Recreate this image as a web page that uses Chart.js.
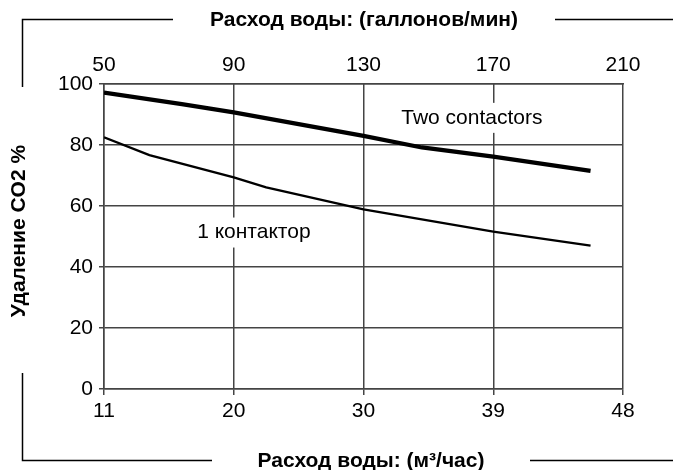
<!DOCTYPE html>
<html>
<head>
<meta charset="utf-8">
<script src="https://cdn.jsdelivr.net/npm/chart.js@4/dist/chart.umd.min.js"></script>
<style>
  html, body { margin: 0; padding: 0; background: #fff; }
  #wrap { width: 673px; height: 470px; }
</style>
</head>
<body>
<div id="wrap"><canvas id="c" width="673" height="470"></canvas></div>
<script>
// ---- Data ----
const flowGpmTwo = [50, 74, 90, 130, 148, 170, 200];
const removalTwo = [97.2, 93.4, 90.7, 83.0, 79.2, 76.2, 71.5];
const flowGpmOne = [50, 64, 90, 100, 130, 170, 200];
const removalOne = [82.5, 76.7, 69.4, 66.1, 58.9, 51.6, 47.0];

const topTickLabels = ['50', '90', '130', '170', '210'];      // gallons/min
const bottomTickLabels = ['11', '20', '30', '39', '48'];      // m3/h
const yTickLabels = ['0', '20', '40', '60', '80', '100'];

const seriesNames = ['Two contactors', '1 контактор'];
const topTitle = 'Расход воды: (галлонов/мин)';
const bottomTitle = 'Расход воды: (м³/час)';
const yTitle = 'Удаление CO2 %';

// label anchor points in data units
const labelAnchors = [
  { text: seriesNames[0], x: 163.4, y: 88.9 },
  { text: seriesNames[1], x: 96.2, y: 51.3 }
];

const FONT = '"Liberation Sans", Arial, sans-serif';

const decor = {
  id: 'decor',
  afterDatasetsDraw(chart) {
    const ctx = chart.ctx;
    const xs = chart.scales.x, ys = chart.scales.y;
    ctx.save();
    ctx.font = '21px ' + FONT;
    ctx.textAlign = 'center';
    ctx.textBaseline = 'middle';
    labelAnchors.forEach(a => {
      const px = xs.getPixelForValue(a.x), py = ys.getPixelForValue(a.y);
      const w = ctx.measureText(a.text).width;
      ctx.fillStyle = '#fff';
      ctx.fillRect(px - w / 2 - 3, py - 15, w + 6, 30);
      ctx.fillStyle = '#000';
      ctx.fillText(a.text, px, py);
    });
    ctx.restore();
  },
  afterDraw(chart) {
    const ctx = chart.ctx;
    ctx.save();
    ctx.strokeStyle = '#000';
    ctx.lineWidth = 1.5;
    ctx.beginPath();
    // top-left bracket
    ctx.moveTo(22.5, 87); ctx.lineTo(22.5, 19.5); ctx.lineTo(173, 19.5);
    // top right
    ctx.moveTo(555, 19.5); ctx.lineTo(673, 19.5);
    // bottom-left bracket
    ctx.moveTo(22.5, 373); ctx.lineTo(22.5, 460.5); ctx.lineTo(212, 460.5);
    // bottom right
    ctx.moveTo(530, 460.5); ctx.lineTo(673, 460.5);
    ctx.stroke();

    ctx.fillStyle = '#000';
    ctx.font = 'bold 21px ' + FONT;
    ctx.textAlign = 'center';
    ctx.textBaseline = 'middle';
    ctx.fillText(topTitle, 364, 20);
    ctx.fillText(bottomTitle, 371, 461);
    ctx.translate(19, 231);
    ctx.rotate(-Math.PI / 2);
    ctx.fillText(yTitle, 0, 0);
    ctx.restore();
  }
};

const tickFont = { family: FONT, size: 21 };

new Chart(document.getElementById('c'), {
  type: 'line',
  data: {
    datasets: [
      {
        label: seriesNames[0],
        data: flowGpmTwo.map((x, i) => ({ x, y: removalTwo[i] })),
        borderColor: '#000', borderWidth: 4.2, pointRadius: 0, tension: 0, fill: false
      },
      {
        label: seriesNames[1],
        data: flowGpmOne.map((x, i) => ({ x, y: removalOne[i] })),
        borderColor: '#000', borderWidth: 2.3, pointRadius: 0, tension: 0, fill: false
      }
    ]
  },
  options: {
    responsive: false,
    animation: false,
    devicePixelRatio: 1,
    layout: { padding: { left: 0, right: 50, top: 0, bottom: 0 } },
    plugins: { legend: { display: false }, tooltip: { enabled: false }, title: { display: false } },
    scales: {
      x: {
        type: 'linear', position: 'bottom', min: 50, max: 210,
        afterFit: s => { s.height = 81; },
        afterBuildTicks: s => { s.ticks = [50, 90, 130, 170, 210].map(v => ({ value: v })); },
        ticks: { color: '#000', font: tickFont, padding: 4, maxRotation: 0, autoSkip: false,
                 callback: (v, i) => bottomTickLabels[i] },
        grid: { color: '#444', lineWidth: 1.5, tickLength: 6, drawTicks: true },
        border: { color: '#444', width: 1.5 }
      },
      x2: {
        type: 'linear', position: 'top', min: 50, max: 210,
        afterFit: s => { s.height = 84; },
        afterBuildTicks: s => { s.ticks = [50, 90, 130, 170, 210].map(v => ({ value: v })); },
        ticks: { color: '#000', font: tickFont, padding: 6, maxRotation: 0, autoSkip: false,
                 callback: (v, i) => topTickLabels[i] },
        grid: { display: false, drawTicks: false },
        border: { color: '#444', width: 1.5 }
      },
      y: {
        min: 0, max: 100,
        afterFit: s => { s.width = 104; },
        afterBuildTicks: s => { s.ticks = [0, 20, 40, 60, 80, 100].map(v => ({ value: v })); },
        ticks: { color: '#000', font: tickFont, padding: 6,
                 callback: (v, i) => yTickLabels[i] },
        grid: { color: '#444', lineWidth: 1.5, tickLength: 5, drawTicks: true },
        border: { color: '#444', width: 1.5 }
      }
    }
  },
  plugins: [decor]
});
</script>
</body>
</html>
